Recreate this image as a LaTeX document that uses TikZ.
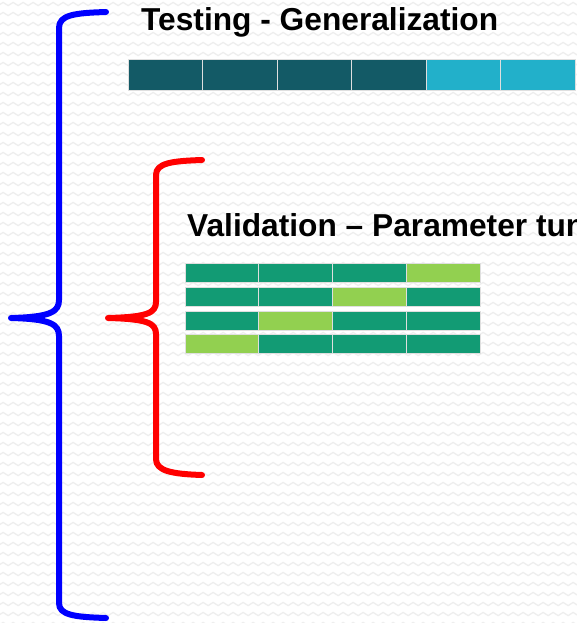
\documentclass[tikz,border=0pt]{standalone}
\usepackage{fontspec}
\setmainfont{Liberation Sans}
\usetikzlibrary{decorations.pathmorphing}
\definecolor{tealdark}{HTML}{135A66}
\definecolor{tealcyan}{HTML}{22B0CA}
\definecolor{greendark}{HTML}{129B74}
\definecolor{greenlight}{HTML}{92D050}
\definecolor{wavegray}{HTML}{EEEEEE}
\tikzset{
  cell/.style={draw=white!75!gray, line width=0.7pt},
  brace/.style={line width=6pt, line cap=round, line join=round},
  heading/.style={anchor=base west, inner sep=0pt, font=\fontsize{31.7}{36}\selectfont\bfseries},
  wave/.style={draw=wavegray, line width=1.3pt, decorate,
    decoration={snake, segment length=10pt, amplitude=1.6pt}},
}
\begin{document}
\begin{tikzpicture}[x=1pt, y=-1pt]
  \useasboundingbox (0,0) rectangle (577,623);
  \clip (0,0) rectangle (577,623);
  % textured backdrop
  \fill[white] (0,0) rectangle (577,623);
  \foreach \r in {0,...,62} {
    \path[wave] (-10,{4+\r*10}) -- (590,{4+\r*10});
  }

  % outer (blue) brace
  \draw[brace, blue] (106,12) .. controls (74,13) and (59,15) .. (59,28)
    -- (59,300) .. controls (59,312) and (50,317) .. (11,318)
    .. controls (50,319) and (59,324) .. (59,336)
    -- (59,603) .. controls (59,615) and (74,617) .. (106,618);

  % inner (red) brace
  \draw[brace, red] (202,160) .. controls (172,161) and (156,163) .. (156,175)
    -- (156,302) .. controls (156,313) and (147,317) .. (108,318)
    .. controls (147,319) and (156,323) .. (156,334)
    -- (156,459) .. controls (156,471) and (172,474) .. (202,475);

  % headings
  \node[heading] (testtitle) at (141,31) {Testing - Generalization};
  \node[heading] (valtitle) at (187,236) {Validation – Parameter tuning};

  % testing split: four training folds, two test folds
  \foreach \i/\c in {0/tealdark,1/tealdark,2/tealdark,3/tealdark,4/tealcyan,5/tealcyan} {
    \path[cell, fill=\c] ({128+\i*74.5},59) rectangle ({128+(\i+1)*74.5},90)
      node[midway, inner sep=0pt] (t\i) {};
  }

  % validation folds: one light fold per row
  \foreach \row/\ytop/\lit in {0/263/3,1/287/2,2/311/1,3/334/0} {
    \foreach \col in {0,1,2,3} {
      \ifnum\col=\lit
        \path[cell, fill=greenlight] ({185+\col*73.75},\ytop) rectangle ({185+(\col+1)*73.75},{\ytop+19.5})
          node[midway, inner sep=0pt] (v\row\col) {};
      \else
        \path[cell, fill=greendark] ({185+\col*73.75},\ytop) rectangle ({185+(\col+1)*73.75},{\ytop+19.5})
          node[midway, inner sep=0pt] (v\row\col) {};
      \fi
    }
  }
\end{tikzpicture}
\end{document}
